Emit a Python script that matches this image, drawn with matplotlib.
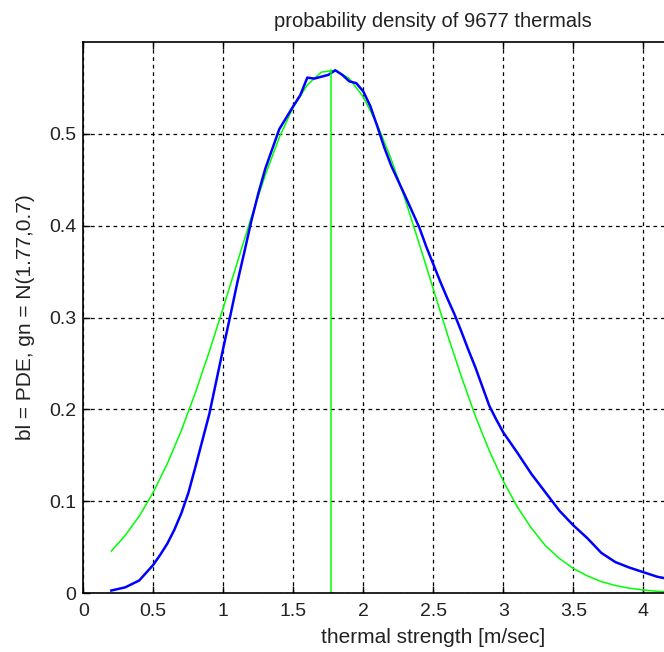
import numpy as np
import matplotlib
matplotlib.use('Agg')
import matplotlib.pyplot as plt

plt.rcParams['font.family'] = ['Liberation Sans', 'DejaVu Sans']

# measured probability density (blue)
pde_x = [0.2, 0.3, 0.4, 0.5, 0.55, 0.6, 0.65, 0.7, 0.75, 0.8, 0.85, 0.9, 0.95,
         1.0, 1.05, 1.1, 1.15, 1.2, 1.25, 1.3, 1.4, 1.5, 1.55, 1.6, 1.65, 1.7,
         1.75, 1.8, 1.85, 1.9, 1.95, 2.0, 2.05, 2.1, 2.15, 2.2, 2.3, 2.4, 2.45,
         2.5, 2.55, 2.6, 2.65, 2.7, 2.75, 2.8, 2.9, 2.95, 3.0, 3.1, 3.2, 3.3,
         3.4, 3.5, 3.6, 3.7, 3.8, 3.9, 4.0, 4.1, 4.2]
pde_y = [0.003, 0.0065, 0.014, 0.031, 0.042, 0.054, 0.069, 0.087, 0.109, 0.137,
         0.166, 0.195, 0.231, 0.267, 0.302, 0.338, 0.371, 0.405, 0.435, 0.462,
         0.505, 0.530, 0.542, 0.561, 0.560, 0.562, 0.564, 0.569, 0.564, 0.557,
         0.555, 0.546, 0.530, 0.508, 0.485, 0.465, 0.432, 0.398, 0.377, 0.358,
         0.339, 0.321, 0.304, 0.285, 0.265, 0.246, 0.204, 0.189, 0.175, 0.153,
         0.130, 0.110, 0.090, 0.074, 0.060, 0.044, 0.034, 0.028, 0.023, 0.018,
         0.015]

# normal fit N(1.77, 0.7) (green)
fit_x = [0.2, 0.3, 0.4, 0.5, 0.6, 0.7, 0.8, 0.9, 1.0, 1.1, 1.2, 1.3, 1.4, 1.5,
         1.6, 1.7, 1.8, 1.9, 2.0, 2.1, 2.2, 2.3, 2.4, 2.5, 2.6, 2.7, 2.8, 2.9,
         3.0, 3.1, 3.2, 3.3, 3.4, 3.5, 3.6, 3.7, 3.8, 3.9, 4.0, 4.1, 4.2]
fit_y = [0.046, 0.063, 0.084, 0.110, 0.141, 0.177, 0.218, 0.263, 0.311, 0.360,
         0.409, 0.455, 0.496, 0.529, 0.553, 0.567, 0.569, 0.560, 0.540, 0.510,
         0.472, 0.428, 0.380, 0.331, 0.282, 0.236, 0.193, 0.155, 0.122, 0.094,
         0.071, 0.052, 0.038, 0.027, 0.019, 0.0127, 0.0085, 0.0056, 0.0036,
         0.0022, 0.0013]

mean_x = 1.77
mean_peak = 0.569

xticks = [0, 0.5, 1, 1.5, 2, 2.5, 3, 3.5, 4]
xticklabels = ['0', '0.5', '1', '1.5', '2', '2.5', '3', '3.5', '4']
yticks = [0, 0.1, 0.2, 0.3, 0.4, 0.5]
yticklabels = ['0', '0.1', '0.2', '0.3', '0.4', '0.5']

fig = plt.figure(figsize=(6.64, 6.52), dpi=100)
# axes runs past the right edge of the picture (xlim 0..5)
ax = fig.add_axes([83.3 / 664, 1 - 593.3 / 652, 700 / 664, 551.5 / 652])

ax.plot(fit_x, fit_y, color=(0, 1, 0), lw=1.1)
ax.plot(pde_x, pde_y, color=(0, 0, 1), lw=1.8)
ax.plot([mean_x, mean_x], [0, mean_peak], color=(0, 1, 0), lw=1.1)

ax.set_xlim(0, 5)
ax.set_ylim(0, 0.6)
ax.set_xticks(xticks)
ax.set_xticklabels(xticklabels)
ax.set_yticks(yticks)
ax.set_yticklabels(yticklabels)
ax.grid(True, color='black', linestyle=(0, (3, 3)), linewidth=0.9)
ax.tick_params(direction='in', length=5, width=1, top=True, right=False,
               labelsize=14, labelcolor='#222222')
ax.tick_params(axis='x', pad=7)
ax.tick_params(axis='y', pad=5)
for s in ax.spines.values():
    s.set_linewidth(1.2)

ax.set_title('probability density of 9677 thermals', fontsize=14.5, pad=11,
             color='#222222')
ax.set_xlabel('thermal strength [m/sec]', fontsize=15, labelpad=6,
              color='#222222')
ax.set_ylabel('bl = PDE, gn = N(1.77,0.7)', fontsize=15, labelpad=10,
              color='#222222')

fig.savefig('out.png', dpi=100)
